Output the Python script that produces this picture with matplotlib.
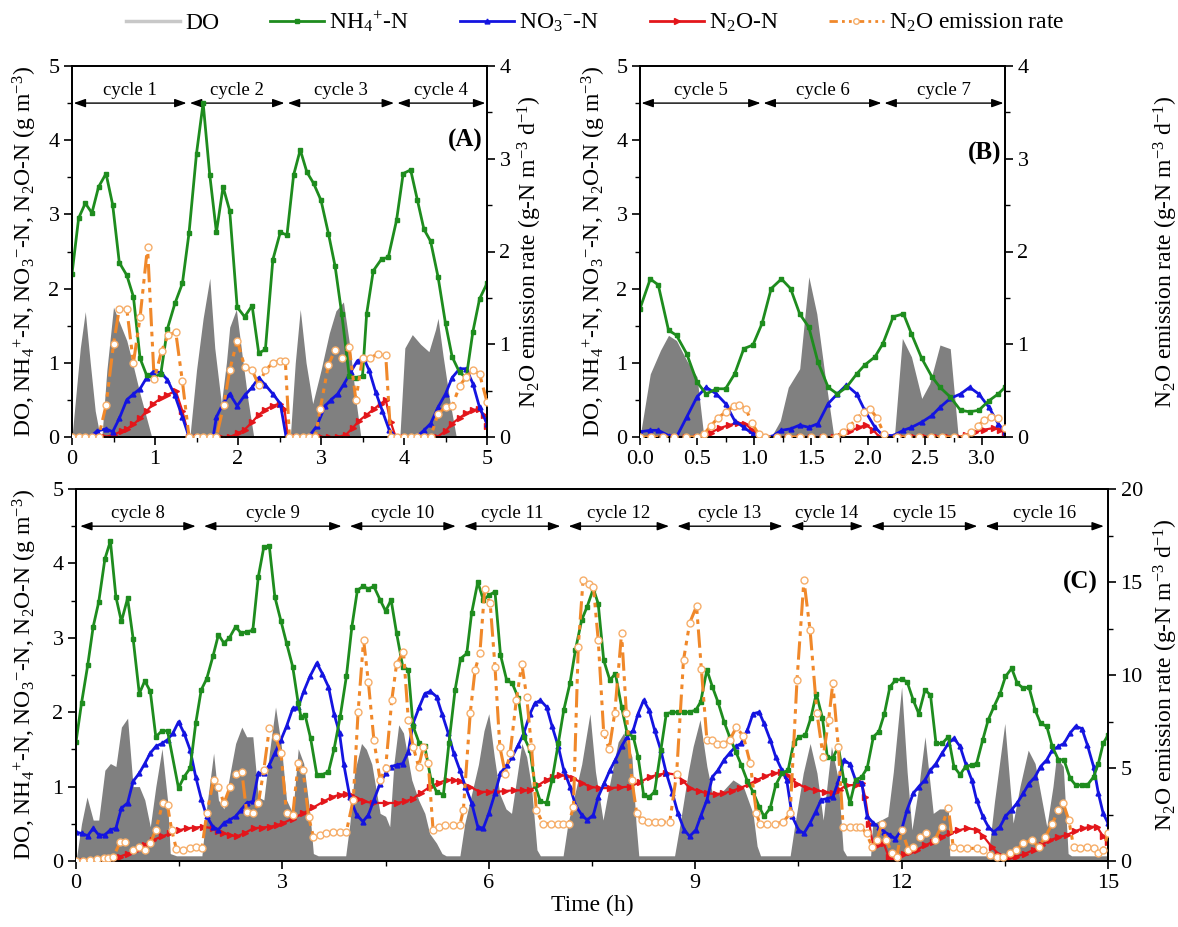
import matplotlib
matplotlib.use("Agg")
import matplotlib.pyplot as plt
from matplotlib.lines import Line2D
from matplotlib.ticker import MultipleLocator, FormatStrFormatter

plt.rcParams['font.family'] = ['Liberation Serif', 'DejaVu Serif']
plt.rcParams['mathtext.fontset'] = 'custom'
plt.rcParams['mathtext.rm'] = 'Liberation Serif'
plt.rcParams['mathtext.it'] = 'Liberation Serif:italic'
plt.rcParams['mathtext.bf'] = 'Liberation Serif:bold'

# ---------------- Panel A (cycles 1-4) ----------------
a_do_t = [0, 0.05, 0.10, 0.16, 0.22, 0.28, 0.34, 0.36, 0.42, 0.50, 0.57, 0.66, 0.74, 0.82, 0.90, 0.96,
          1.42, 1.50, 1.58, 1.66, 1.72, 1.80, 1.86, 1.90, 1.98, 2.05, 2.12, 2.19,
          2.63, 2.69, 2.75, 2.82, 2.90, 3.00, 3.10, 3.18, 3.27, 3.35, 3.42, 3.48,
          3.95, 4.01, 4.10, 4.20, 4.30, 4.38, 4.41, 4.47, 4.55, 4.63, 5.0]
a_do_v = [0, 0.60, 1.20, 1.69, 1.00, 0.35, 0, 0, 0.90, 1.75, 1.55, 1.30, 0.95, 0.58, 0.25, 0,
          0, 0.90, 1.60, 2.14, 1.20, 0.45, 1.00, 1.48, 1.72, 1.10, 0.50, 0,
          0, 1.00, 1.72, 1.00, 0.45, 0.90, 1.40, 1.70, 1.82, 1.20, 0.50, 0,
          0, 1.20, 1.38, 1.25, 1.15, 1.45, 1.60, 1.10, 0.50, 0, 0]

a_nh4_t = [0, 0.08, 0.16, 0.24, 0.32, 0.41, 0.49, 0.57, 0.66, 0.74, 0.82, 0.90, 0.98, 1.07, 1.15, 1.24,
           1.33, 1.41, 1.50, 1.58, 1.66, 1.74, 1.82, 1.90, 1.99, 2.08, 2.17, 2.25, 2.33, 2.42, 2.51,
           2.59, 2.67, 2.75, 2.83, 2.91, 3.00, 3.09, 3.17, 3.25, 3.34, 3.42, 3.50, 3.55, 3.63, 3.73,
           3.81, 3.91, 3.99, 4.08, 4.16, 4.24, 4.32, 4.41, 4.50, 4.58, 4.67, 4.75, 4.83, 4.91, 5.0]
a_nh4_v = [2.20, 2.95, 3.15, 3.02, 3.37, 3.55, 3.13, 2.35, 2.18, 1.89, 1.06, 0.83, 0.80, 0.85, 1.46, 1.80,
           2.07, 2.75, 3.82, 4.50, 3.53, 2.76, 3.37, 3.05, 1.75, 1.62, 1.77, 1.13, 1.18, 2.39, 2.76,
           2.72, 3.53, 3.87, 3.57, 3.42, 3.19, 2.74, 2.30, 1.66, 0.82, 0.80, 0.82, 1.66, 2.24, 2.40,
           2.42, 2.92, 3.55, 3.60, 3.20, 2.80, 2.64, 2.16, 1.53, 1.08, 0.87, 0.80, 1.42, 1.86, 2.07]

a_no3_t = [0.22, 0.30, 0.41, 0.49, 0.57, 0.66, 0.74, 0.82, 0.90, 0.98, 1.07, 1.15, 1.24, 1.33, 1.41,
           1.70, 1.74, 1.82, 1.90, 1.99, 2.08, 2.17, 2.25, 2.33, 2.42, 2.51, 2.58,
           2.85, 2.95, 3.05, 3.12, 3.20, 3.28, 3.36, 3.44, 3.52, 3.58, 3.66, 3.74, 3.82, 3.90,
           4.15, 4.24, 4.32, 4.41, 4.50, 4.58, 4.67, 4.75, 4.83, 4.91, 5.0]
a_no3_v = [0.0, 0.08, 0.11, 0.07, 0.25, 0.50, 0.58, 0.65, 0.80, 0.88, 0.87, 0.77, 0.56, 0.27, 0.0,
           0.0, 0.27, 0.45, 0.58, 0.42, 0.56, 0.67, 0.80, 0.70, 0.58, 0.45, 0.0,
           0.0, 0.15, 0.42, 0.50, 0.58, 0.72, 0.88, 1.03, 1.05, 0.90, 0.60, 0.35, 0.10, 0.0,
           0.0, 0.09, 0.18, 0.40, 0.58, 0.80, 0.92, 0.92, 0.72, 0.40, 0.18]

a_n2o_t = [0, 0.10, 0.20, 0.30, 0.40, 0.50, 0.60, 0.66, 0.74, 0.82, 0.90, 0.98, 1.07, 1.15, 1.25, 1.33, 1.41,
           1.50, 1.60, 1.70, 1.80, 1.90, 2.00, 2.08, 2.17, 2.25, 2.33, 2.42, 2.50, 2.56, 2.60,
           2.70, 2.80, 2.90, 3.00, 3.10, 3.20, 3.30, 3.38, 3.46, 3.55, 3.64, 3.72, 3.78, 3.84, 3.90,
           4.00, 4.10, 4.20, 4.30, 4.40, 4.50, 4.58, 4.67, 4.75, 4.83, 4.90, 4.96, 5.0]
a_n2o_v = [0, 0, 0, 0, 0, 0.03, 0.08, 0.11, 0.17, 0.25, 0.35, 0.45, 0.52, 0.57, 0.62, 0.35, 0,
           0, 0, 0, 0, 0, 0.05, 0.10, 0.20, 0.30, 0.37, 0.42, 0.45, 0.38, 0,
           0, 0, 0, 0, 0, 0, 0.03, 0.12, 0.22, 0.30, 0.38, 0.45, 0.50, 0.20, 0,
           0, 0, 0, 0, 0, 0.08, 0.18, 0.26, 0.32, 0.36, 0.38, 0.30, 0.15]

a_em_t = [0, 0.08, 0.16, 0.24, 0.32, 0.41, 0.50, 0.57, 0.66, 0.74, 0.82, 0.91, 0.99, 1.08, 1.16, 1.25,
          1.33, 1.41, 1.50, 1.58, 1.66, 1.74, 1.83, 1.90, 1.99, 2.08, 2.17, 2.25, 2.33, 2.42, 2.51,
          2.57, 2.62, 2.70, 2.78, 2.86, 2.93, 2.99, 3.09, 3.17, 3.25, 3.34, 3.42, 3.50, 3.59, 3.69,
          3.78, 3.84, 3.92, 4.00, 4.08, 4.16, 4.24, 4.32, 4.41, 4.50, 4.58, 4.67, 4.75, 4.83, 4.91, 5.0]
a_em_v = [0, 0, 0, 0, 0, 0.34, 1.00, 1.38, 1.38, 0.80, 1.29, 2.05, 0.62, 0.93, 1.10, 1.13,
          0.60, 0, 0, 0, 0, 0, 0.35, 0.72, 1.04, 0.76, 0.72, 0.56, 0.72, 0.80, 0.82,
          0.82, 0, 0, 0, 0, 0, 0.30, 0.78, 0.94, 0.85, 0.97, 0.40, 0.85, 0.85, 0.90,
          0.88, 0, 0, 0, 0, 0, 0, 0, 0.25, 0.32, 0.33, 0.55, 0.65, 0.72, 0.68, 0.38]

# ---------------- Panel B (cycles 5-7) ----------------
b_do_t = [0, 0.09, 0.18, 0.25, 0.32, 0.41, 0.50, 0.56, 1.15, 1.23, 1.30, 1.40, 1.48, 1.55, 1.62, 1.70,
          2.23, 2.30, 2.38, 2.47, 2.54, 2.63, 2.72, 2.79, 3.2]
b_do_v = [0, 0.85, 1.17, 1.37, 1.30, 1.03, 0.81, 0, 0, 0.22, 0.67, 0.92, 2.16, 1.66, 0.85, 0,
          0, 1.33, 1.08, 0.52, 0.72, 1.24, 1.19, 0, 0]

b_t = [0, 0.09, 0.16, 0.25, 0.32, 0.41, 0.50, 0.58, 0.67, 0.75, 0.83, 0.91, 0.99, 1.07, 1.15, 1.24,
       1.32, 1.40, 1.48, 1.56, 1.65, 1.73, 1.81, 1.90, 1.97, 2.06, 2.13, 2.22, 2.31, 2.38, 2.47, 2.56,
       2.63, 2.72, 2.81, 2.89, 2.97, 3.06, 3.14, 3.20]
b_nh4_v = [1.73, 2.13, 2.05, 1.44, 1.37, 1.12, 0.74, 0.58, 0.65, 0.65, 0.85, 1.19, 1.24, 1.53, 2.00, 2.13,
           2.00, 1.66, 1.48, 1.01, 0.67, 0.58, 0.67, 0.85, 0.97, 1.08, 1.26, 1.62, 1.66, 1.39, 1.06, 0.81,
           0.67, 0.54, 0.36, 0.34, 0.36, 0.49, 0.58, 0.67]
b_no3_v = [0.07, 0.09, 0.09, 0.02, 0.0, 0.27, 0.54, 0.67, 0.58, 0.45, 0.22, 0.13, 0.04, 0.02, 0.0, 0.09,
           0.11, 0.16, 0.13, 0.18, 0.45, 0.58, 0.70, 0.58, 0.36, 0.13, 0.02, 0.02, 0.09, 0.13, 0.20, 0.29,
           0.40, 0.52, 0.58, 0.67, 0.58, 0.40, 0.18, 0.07]

b_n2o_t = [0, 0.1, 0.2, 0.3, 0.4, 0.5, 0.55, 0.62, 0.70, 0.78, 0.86, 0.92, 0.98, 1.04, 1.10,
           1.2, 1.3, 1.4, 1.5, 1.6, 1.7, 1.76, 1.84, 1.92, 1.98, 2.04, 2.10,
           2.2, 2.3, 2.4, 2.5, 2.6, 2.7, 2.8, 2.86, 2.94, 3.02, 3.10, 3.16, 3.20]
b_n2o_v = [0, 0, 0, 0, 0, 0, 0, 0.06, 0.12, 0.16, 0.19, 0.18, 0.10, 0.03, 0,
           0, 0, 0, 0, 0, 0, 0.02, 0.08, 0.13, 0.16, 0.10, 0,
           0, 0, 0, 0, 0, 0, 0, 0.03, 0.07, 0.10, 0.12, 0.10, 0.05]

b_em_t = [0, 0.1, 0.2, 0.3, 0.4, 0.5, 0.56, 0.62, 0.68, 0.75, 0.82, 0.87, 0.93, 0.98, 1.04, 1.1,
          1.2, 1.3, 1.4, 1.5, 1.6, 1.72, 1.78, 1.84, 1.9, 1.96, 2.02, 2.08, 2.14,
          2.25, 2.35, 2.45, 2.55, 2.65, 2.75, 2.85, 2.9, 2.96, 3.02, 3.08, 3.14, 3.2]
b_em_v = [0, 0, 0, 0, 0, 0, 0.03, 0.12, 0.20, 0.27, 0.33, 0.35, 0.30, 0.15, 0.03, 0,
          0, 0, 0, 0, 0, 0, 0.05, 0.12, 0.20, 0.27, 0.30, 0.20, 0.03,
          0, 0, 0, 0, 0, 0, 0, 0.05, 0.12, 0.18, 0.22, 0.20, 0.10]

# ---------------- Panel C (cycles 8-16) ----------------
c_do_t = [0, 0.08, 0.16, 0.25, 0.33, 0.42, 0.50, 0.58, 0.66, 0.75, 0.83, 0.92, 1.00, 1.08, 1.16, 1.25,
          1.33, 1.37, 1.46, 1.83, 1.90, 2.00, 2.07, 2.15, 2.24, 2.32, 2.41, 2.48, 2.57, 2.65, 2.73,
          2.81, 2.90, 2.98, 3.06, 3.15, 3.23, 3.31, 3.40, 3.45, 3.52, 3.92, 3.98, 4.05, 4.15, 4.22,
          4.30, 4.42, 4.50, 4.56, 4.62, 4.69, 4.76, 4.88, 4.98, 5.07, 5.14, 5.24, 5.32, 5.38, 5.58,
          5.65, 5.75, 5.85, 5.93, 6.00, 6.08, 6.16, 6.25, 6.33, 6.42, 6.48, 6.55, 6.62, 6.70, 6.75,
          7.08, 7.15, 7.25, 7.35, 7.47, 7.55, 7.66, 7.75, 7.88, 7.96, 8.08, 8.14, 8.18, 8.70, 8.78,
          8.90, 8.97, 9.07, 9.17, 9.26, 9.41, 9.55, 9.70, 9.84, 9.90, 9.95, 10.38, 10.45, 10.57,
          10.67, 10.77, 10.86, 10.98, 11.08, 11.15, 11.20, 11.55, 11.58, 11.70, 11.80, 11.88, 12.00,
          12.08, 12.15, 12.25, 12.34, 12.46, 12.55, 12.68, 12.70, 13.26, 13.35, 13.50, 13.62, 13.72,
          13.84, 13.94, 14.11, 14.20, 14.25, 14.35, 14.42, 14.47, 15.0]
c_do_v = [0, 0.50, 0.86, 0.55, 0.55, 1.22, 1.31, 1.27, 1.80, 1.92, 1.00, 1.00, 0.82, 0.46, 1.00, 1.51,
          0.82, 0.10, 0.07, 0.07, 0.73, 1.45, 0.82, 0.70, 1.18, 1.58, 1.80, 1.67, 1.67, 0.86, 0.82,
          1.45, 2.07, 1.58, 0.82, 0.64, 1.51, 1.31, 0.64, 0.10, 0.07, 0.07, 0.50, 1.20, 1.58, 1.50,
          1.30, 0.64, 0.60, 0.46, 1.30, 1.83, 1.72, 1.09, 0.82, 0.64, 0.37, 0.24, 0.10, 0.07, 0.07,
          0.50, 0.90, 1.30, 1.75, 1.98, 1.40, 0.90, 0.70, 0.64, 1.20, 1.58, 1.40, 1.00, 0.15, 0.07,
          0.07, 0.50, 0.90, 1.30, 1.98, 1.20, 0.55, 1.00, 1.60, 1.72, 1.40, 0.50, 0.07, 0.07, 0.50,
          1.20, 1.54, 1.90, 1.27, 0.86, 0.95, 1.09, 1.00, 0.64, 0.20, 0.07, 0.07, 0.50, 1.18,
          1.58, 1.18, 0.55, 1.54, 1.09, 0.15, 0.07, 0.07, 0.50, 0.55, 0.60, 1.20, 2.34,
          1.20, 0.42, 1.00, 1.67, 0.64, 0.70, 0.70, 0.07, 0.07, 0.80, 1.85, 0.51, 1.00,
          1.49, 1.31, 0.46, 1.00, 1.40, 1.27, 0.10, 0.07, 0.07]

c_nh4_t = [0, 0.08, 0.17, 0.25, 0.33, 0.42, 0.50, 0.58, 0.66, 0.75, 0.83, 0.92, 1.00, 1.08, 1.16, 1.25,
           1.33, 1.49, 1.57, 1.66, 1.74, 1.82, 1.90, 1.99, 2.07, 2.15, 2.23, 2.32, 2.40, 2.48, 2.57,
           2.65, 2.73, 2.81, 2.89, 2.98, 3.06, 3.15, 3.23, 3.27, 3.33, 3.41, 3.50, 3.58, 3.67, 3.75,
           3.84, 3.93, 4.01, 4.09, 4.17, 4.25, 4.33, 4.42, 4.50, 4.58, 4.66, 4.75, 4.83, 4.90, 4.99,
           5.07, 5.16, 5.24, 5.34, 5.42, 5.51, 5.59, 5.68, 5.75, 5.84, 5.92, 6.00, 6.09, 6.17, 6.26,
           6.34, 6.43, 6.51, 6.60, 6.67, 6.75, 6.84, 6.92, 7.01, 7.09, 7.18, 7.26, 7.35, 7.43, 7.52,
           7.59, 7.67, 7.76, 7.84, 7.93, 8.01, 8.10, 8.17, 8.25, 8.33, 8.41, 8.50, 8.58, 8.67, 8.75,
           8.84, 8.92, 9.01, 9.08, 9.17, 9.25, 9.33, 9.42, 9.50, 9.59, 9.67, 9.76, 9.84, 9.93, 10.00,
           10.09, 10.17, 10.26, 10.35, 10.43, 10.51, 10.60, 10.68, 10.76, 10.85, 10.92, 11.00, 11.08,
           11.16, 11.25, 11.33, 11.42, 11.50, 11.59, 11.67, 11.75, 11.83, 11.91, 12.00, 12.08, 12.17,
           12.25, 12.34, 12.42, 12.50, 12.59, 12.68, 12.76, 12.85, 12.93, 13.02, 13.09, 13.18, 13.26,
           13.34, 13.43, 13.51, 13.60, 13.68, 13.77, 13.85, 13.94, 14.02, 14.11, 14.19, 14.28, 14.36,
           14.45, 14.53, 14.62, 14.70, 14.79, 14.86, 14.93, 15.00]
c_nh4_v = [1.60, 2.12, 2.63, 3.15, 3.48, 4.06, 4.30, 3.55, 3.22, 3.53, 2.99, 2.25, 2.42, 2.28, 1.67, 1.75,
           1.75, 0.98, 1.13, 1.25, 1.85, 2.30, 2.45, 2.75, 3.04, 2.93, 3.00, 3.15, 3.06, 3.08, 3.10,
           3.82, 4.22, 4.23, 3.55, 3.22, 2.93, 2.61, 2.12, 1.94, 1.96, 1.65, 1.16, 1.16, 1.20, 1.50,
           1.94, 2.48, 3.15, 3.64, 3.69, 3.66, 3.69, 3.51, 3.36, 3.51, 3.06, 2.61, 2.57, 1.81, 1.58,
           1.54, 1.09, 0.93, 0.89, 1.58, 2.30, 2.72, 2.79, 3.33, 3.75, 3.51, 3.57, 3.62, 2.77, 2.43,
           2.39, 2.19, 1.67, 1.49, 1.02, 0.80, 0.78, 1.09, 1.58, 2.03, 2.39, 2.84, 3.24, 3.42, 3.66,
           3.46, 2.70, 2.43, 2.52, 2.07, 1.72, 1.67, 1.40, 0.89, 0.86, 0.93, 1.49, 1.98, 2.00, 2.00,
           2.00, 2.00, 2.03, 2.14, 2.57, 2.34, 2.14, 1.87, 1.67, 1.47, 1.29, 1.07, 0.93, 0.73, 0.60,
           0.71, 1.02, 1.18, 1.22, 1.58, 1.67, 1.69, 1.92, 2.25, 1.92, 1.40, 1.38, 1.54,
           1.09, 0.78, 1.09, 1.13, 1.25, 1.67, 1.74, 1.98, 2.34, 2.43, 2.44, 2.41, 2.16,
           1.98, 2.30, 2.23, 1.58, 1.58, 1.67, 1.27, 1.16, 1.27, 1.29, 1.31, 1.63, 1.90,
           2.07, 2.25, 2.48, 2.59, 2.39, 2.32, 2.34, 2.03, 1.85, 1.81, 1.54, 1.36, 1.36,
           1.11, 1.02, 1.02, 1.02, 1.13, 1.31, 1.58, 1.69]

c_no3_t = [0, 0.08, 0.17, 0.25, 0.33, 0.42, 0.50, 0.58, 0.66, 0.75, 0.83, 0.92, 1.00, 1.08, 1.16, 1.25,
           1.33, 1.41, 1.49, 1.57, 1.66, 1.74, 1.82, 1.90, 1.99, 2.07, 2.15, 2.23, 2.32, 2.40, 2.48,
           2.57, 2.65, 2.73, 2.81, 2.89, 2.98, 3.06, 3.15, 3.23, 3.31, 3.40, 3.50, 3.58, 3.67, 3.75,
           3.83, 3.89, 3.98, 4.08, 4.17, 4.25, 4.33, 4.42, 4.50, 4.58, 4.66, 4.75, 4.83, 4.90, 4.99,
           5.07, 5.15, 5.24, 5.32, 5.41, 5.49, 5.58, 5.66, 5.75, 5.84, 5.92, 6.00, 6.09, 6.17, 6.26,
           6.34, 6.43, 6.51, 6.60, 6.67, 6.75, 6.84, 6.92, 7.01, 7.09, 7.18, 7.26, 7.35, 7.43, 7.52,
           7.59, 7.68, 7.76, 7.84, 7.93, 8.01, 8.10, 8.17, 8.25, 8.33, 8.41, 8.50, 8.58, 8.67, 8.75,
           8.84, 8.92, 9.01, 9.08, 9.17, 9.25, 9.33, 9.42, 9.50, 9.59, 9.67, 9.76, 9.84, 9.93, 10.00,
           10.09, 10.17, 10.26, 10.33, 10.41, 10.50, 10.58, 10.67, 10.75, 10.83, 10.92, 11.00, 11.08,
           11.16, 11.25, 11.33, 11.42, 11.50, 11.59, 11.67, 11.75, 11.83, 11.91, 12.00, 12.08, 12.17,
           12.25, 12.34, 12.42, 12.50, 12.59, 12.68, 12.76, 12.85, 12.93, 13.02, 13.09, 13.18, 13.26,
           13.34, 13.43, 13.51, 13.60, 13.68, 13.77, 13.85, 13.94, 14.02, 14.11, 14.19, 14.28, 14.36,
           14.45, 14.53, 14.62, 14.70, 14.79, 14.86, 14.93, 15.00]
c_no3_v = [0.39, 0.37, 0.34, 0.44, 0.35, 0.35, 0.42, 0.44, 0.71, 0.78, 1.07, 1.18, 1.31, 1.45, 1.54, 1.58,
           1.63, 1.72, 1.87, 1.72, 1.49, 1.13, 0.84, 0.60, 0.46, 0.42, 0.51, 0.55, 0.60, 0.69, 0.78,
           0.80, 1.18, 1.18, 1.29, 1.45, 1.63, 1.81, 2.05, 2.07, 2.28, 2.48, 2.66, 2.52, 2.34, 1.98,
           1.72, 1.31, 0.86, 0.62, 0.53, 0.62, 0.82, 1.04, 1.18, 1.27, 1.29, 1.31, 1.47, 1.85, 2.07,
           2.25, 2.28, 2.21, 1.98, 1.72, 1.45, 1.22, 1.00, 0.78, 0.46, 0.44, 0.64, 0.91, 1.18, 1.29,
           1.40, 1.56, 1.72, 1.98, 2.12, 2.16, 2.07, 1.81, 1.54, 1.22, 1.00, 0.75, 0.62, 0.55, 0.62,
           0.86, 1.05, 1.22, 1.36, 1.54, 1.67, 1.76, 1.98, 2.16, 2.03, 1.76, 1.49, 1.18, 0.91, 0.64,
           0.42, 0.33, 0.42, 0.60, 0.82, 1.13, 1.22, 1.36, 1.45, 1.54, 1.58, 1.76, 1.98, 2.00, 1.85,
           1.63, 1.40, 1.22, 1.09, 0.60, 0.42, 0.37, 0.51, 0.66, 0.82, 0.84, 0.86, 1.07,
           1.36, 1.30, 1.09, 1.05, 0.60, 0.51, 0.46, 0.39, 0.35, 0.30, 0.42, 0.69, 0.91,
           1.00, 1.09, 1.22, 1.31, 1.45, 1.58, 1.65, 1.54, 1.31, 1.09, 0.82, 0.60, 0.46,
           0.39, 0.46, 0.60, 0.69, 0.78, 0.91, 1.04, 1.13, 1.27, 1.36, 1.49, 1.54, 1.58,
           1.72, 1.81, 1.78, 1.56, 1.27, 0.91, 0.64, 0.51]

c_n2o_t = [0, 0.10, 0.20, 0.30, 0.40, 0.55, 0.64, 0.76, 0.88, 1.00, 1.12, 1.25, 1.37, 1.49, 1.61, 1.73,
           1.85, 1.99, 2.06, 2.14, 2.24, 2.34, 2.46, 2.58, 2.70, 2.82, 2.92, 3.01, 3.15, 3.30, 3.45,
           3.60, 3.72, 3.83, 3.92, 4.00, 4.10, 4.18, 4.32, 4.50, 4.66, 4.78, 4.90, 5.02, 5.15, 5.27,
           5.39, 5.50, 5.58, 5.72, 5.87, 6.00, 6.10, 6.23, 6.36, 6.50, 6.60, 6.72, 6.84, 6.94, 7.03,
           7.13, 7.23, 7.35, 7.47, 7.60, 7.76, 7.90, 8.05, 8.20, 8.34, 8.46, 8.58, 8.73, 8.82, 8.92,
           9.05, 9.17, 9.30, 9.41, 9.53, 9.65, 9.78, 9.90, 10.02, 10.14, 10.25, 10.33, 10.40, 10.48,
           10.62, 10.76, 10.88, 11.00, 11.10, 11.20, 11.34, 11.42, 11.47, 11.53, 11.59, 11.66, 11.74,
           11.81, 11.88, 11.95, 12.03, 12.12, 12.22, 12.34, 12.46, 12.58, 12.70, 12.82, 12.95, 13.09,
           13.19, 13.31, 13.40, 13.48, 13.58, 13.67, 13.80, 13.92, 14.04, 14.16, 14.28, 14.40, 14.52,
           14.64, 14.74, 14.84, 14.93, 15.00]
c_n2o_v = [0, 0, 0, 0, 0, 0.0, 0.06, 0.10, 0.15, 0.22, 0.28, 0.33, 0.37, 0.41, 0.44, 0.45,
           0.46, 0.44, 0.40, 0.37, 0.35, 0.33, 0.38, 0.44, 0.45, 0.46, 0.48, 0.51, 0.57, 0.64, 0.72,
           0.80, 0.86, 0.89, 0.90, 0.89, 0.84, 0.80, 0.78, 0.78, 0.78, 0.80, 0.84, 0.92, 1.00, 1.05,
           1.09, 1.09, 1.07, 1.00, 0.93, 0.93, 0.93, 0.94, 0.95, 0.95, 0.95, 1.02, 1.09, 1.13, 1.16,
           1.14, 1.11, 1.05, 1.00, 0.98, 0.98, 0.99, 1.00, 1.06, 1.13, 1.16, 1.18, 1.16, 1.08, 0.98,
           0.94, 0.91, 0.90, 0.91, 0.94, 0.98, 1.03, 1.09, 1.14, 1.18, 1.19, 1.16, 1.10, 1.04,
           0.98, 0.95, 0.93, 0.91, 0.96, 1.02, 1.02, 1.05, 0.86, 0.50, 0.19, 0.22, 0.24,
           0.06, 0.01, 0.05, 0.10, 0.12, 0.15, 0.21, 0.26, 0.32, 0.37, 0.41, 0.44, 0.42,
           0.33, 0.19, 0.10, 0.06, 0.05, 0.06, 0.10, 0.15, 0.22, 0.28, 0.32, 0.35, 0.40,
           0.44, 0.46, 0.46, 0.33, 0.26]

c_em_t = [0, 0.10, 0.20, 0.30, 0.40, 0.46, 0.54, 0.64, 0.71, 0.83, 0.92, 1.00, 1.08, 1.16, 1.26, 1.33,
          1.39, 1.46, 1.56, 1.66, 1.75, 1.83, 1.90, 2.00, 2.07, 2.15, 2.24, 2.32, 2.41, 2.48, 2.57,
          2.65, 2.73, 2.81, 2.90, 2.98, 3.06, 3.15, 3.23, 3.30, 3.38, 3.45, 3.55, 3.64, 3.74, 3.84,
          3.93, 4.03, 4.10, 4.18, 4.25, 4.33, 4.42, 4.50, 4.59, 4.66, 4.76, 4.83, 4.90, 4.98, 5.05,
          5.12, 5.19, 5.27, 5.36, 5.48, 5.58, 5.63, 5.73, 5.80, 5.87, 5.94, 6.02, 6.09, 6.16, 6.24,
          6.31, 6.40, 6.48, 6.55, 6.62, 6.69, 6.79, 6.90, 7.00, 7.08, 7.16, 7.23, 7.30, 7.37, 7.45,
          7.52, 7.59, 7.67, 7.75, 7.83, 7.93, 8.00, 8.08, 8.15, 8.22, 8.32, 8.42, 8.51, 8.63, 8.73,
          8.83, 8.92, 9.02, 9.09, 9.17, 9.24, 9.31, 9.41, 9.50, 9.60, 9.70, 9.80, 9.89, 9.94, 10.04,
          10.16, 10.28, 10.38, 10.48, 10.58, 10.67, 10.77, 10.86, 10.94, 11.00, 11.08, 11.15, 11.25,
          11.33, 11.40, 11.49, 11.57, 11.64, 11.71, 11.78, 11.86, 11.93, 12.00, 12.10, 12.17, 12.27,
          12.36, 12.48, 12.58, 12.68, 12.75, 12.85, 12.95, 13.09, 13.19, 13.28, 13.38, 13.48, 13.57,
          13.67, 13.77, 13.89, 13.99, 14.09, 14.19, 14.28, 14.35, 14.43, 14.50, 14.60, 14.69, 14.79,
          14.86, 14.93, 15.00]
c_em_v = [0, 0.02, 0.05, 0.10, 0.15, 0.15, 0.20, 1.00, 1.00, 0.60, 0.77, 0.60, 0.95, 1.67, 3.10, 3.00,
          1.67, 0.63, 0.60, 0.68, 0.77, 0.68, 2.56, 4.35, 4.00, 3.10, 4.00, 4.70, 4.80, 2.65, 2.56,
          3.10, 4.90, 7.13, 6.68, 5.80, 2.56, 2.47, 5.25, 4.90, 2.38, 1.31, 1.40, 1.49, 1.58, 1.58,
          1.58, 3.30, 8.00, 11.90, 9.60, 6.50, 4.35, 5.00, 8.65, 10.60, 11.25, 7.60, 6.15, 5.07, 6.15,
          5.25, 1.67, 1.85, 1.94, 1.94, 1.94, 2.74, 7.94, 10.27, 11.16, 14.60, 13.85, 10.45, 6.15, 4.70,
          5.80, 8.65, 10.60, 8.84, 6.15, 2.74, 2.00, 2.00, 2.00, 2.00, 2.00, 2.90, 11.50, 15.10, 14.90,
          14.75, 11.90, 6.90, 6.00, 7.94, 12.25, 7.94, 4.35, 2.56, 2.20, 2.10, 2.10, 2.10, 2.10, 4.70,
          10.80, 12.80, 13.70, 10.30, 6.50, 6.50, 6.30, 6.30, 6.50, 7.20, 6.70, 5.25, 2.56, 2.00, 2.00,
          2.00, 2.10, 2.56, 9.73, 15.10, 12.40, 7.94, 5.60, 7.60, 9.55, 6.15, 1.85, 1.85,
          1.85, 1.85, 1.49, 0.77, 1.13, 2.00, 1.13, 0.41, 0.23, 1.67, 0.60, 0.77, 1.31,
          1.49, 1.13, 1.85, 2.83, 0.77, 0.68, 0.68, 0.68, 0.60, 0.32, 0.23, 0.23, 0.41,
          0.60, 0.95, 1.13, 0.77, 1.31, 2.00, 2.74, 3.10, 2.20, 0.77, 0.68, 0.77, 0.68,
          0.41, 0.60, 1.49]

# cycle boundaries (h) and labels
a_cycles = [0, 1.40, 2.58, 3.90, 5.0]
b_cycles = [0, 1.07, 2.13, 3.20]
c_cycles = [0, 1.80, 3.92, 5.58, 7.10, 8.68, 10.33, 11.50, 13.16, 15.0]
a_names = ['cycle 1', 'cycle 2', 'cycle 3', 'cycle 4']
b_names = ['cycle 5', 'cycle 6', 'cycle 7']
c_names = ['cycle %d' % i for i in range(8, 17)]

DO_C = '#808080'
NH4_C = '#1E8C1E'
NO3_C = '#1414E0'
N2O_C = '#E3161B'
EM_C = '#F0882A'
EM_EDGE = '#F6AE6A'

TICK_FS = 16
LAB_FS = 17
NH4_TXT = r'NH$_{\mathregular{4}}$$^{\mathregular{+}}$-N'
NO3_TXT = r'NO$_{\mathregular{3}}$$^{\mathregular{-}}$-N'
N2O_TXT = r'N$_{\mathregular{2}}$O'
left_label = 'DO, ' + NH4_TXT + ', ' + NO3_TXT + ', ' + N2O_TXT + r'-N (g m$^{\mathregular{-3}}$)'
right_label = N2O_TXT + r' emission rate (g-N m$^{\mathregular{-3}}$ d$^{\mathregular{-1}}$)'

fig = plt.figure(figsize=(11.78, 9.27), dpi=100)
W, H = 1178.0, 927.0


def box(l, r, t, b):
    return [l / W, 1 - b / H, (r - l) / W, (b - t) / H]


def style_axis(ax):
    ax.tick_params(axis='both', which='major', direction='out', length=6, width=1.2,
                   labelsize=TICK_FS, pad=3)
    ax.tick_params(axis='both', which='minor', direction='out', length=3.5, width=1.0)
    for s in ax.spines.values():
        s.set_linewidth(1.3)


def cycles(ax, bounds, names, xspan):
    gap = 0.004 * xspan
    for i, name in enumerate(names):
        x0, x1 = bounds[i] + gap, bounds[i + 1] - gap
        ax.annotate('', xy=(x1, 4.5), xytext=(x0, 4.5),
                    arrowprops=dict(arrowstyle='<|-|>,head_length=0.7,head_width=0.25',
                                    color='k', lw=1.0, shrinkA=0, shrinkB=0))
        ax.text((x0 + x1) / 2, 4.56, name, ha='center', va='bottom', fontsize=13.5)


def panel(rect, do_t, do_v, nh4_t, nh4_v, no3_t, no3_v, n2o_t, n2o_v, em_t, em_v,
          xmax, rmax, bounds, names, tag, tag_y, lab_l, lab_r, xmaj, xmin_, rmaj, rmin, xfmt):
    ax = fig.add_axes(rect)
    ax.fill_between(do_t, do_v, 0, color=DO_C, lw=0, zorder=1)
    ax.plot(n2o_t, n2o_v, color=N2O_C, lw=1.6, marker='>', ms=4, mec=N2O_C, mfc=N2O_C, zorder=3)
    ax.plot(no3_t, no3_v, color=NO3_C, lw=2.0, marker='^', ms=3.5, zorder=4)
    ax.plot(nh4_t, nh4_v, color=NH4_C, lw=2.0, marker='s', ms=3.0, zorder=5)
    ax.set_xlim(0, xmax)
    ax.set_ylim(0, 5)
    ax.xaxis.set_major_locator(MultipleLocator(xmaj))
    ax.xaxis.set_minor_locator(MultipleLocator(xmin_))
    ax.xaxis.set_major_formatter(FormatStrFormatter(xfmt))
    ax.yaxis.set_major_locator(MultipleLocator(1))
    ax.yaxis.set_minor_locator(MultipleLocator(0.5))
    ax.set_ylabel(left_label, fontsize=LAB_FS)
    ax.yaxis.set_label_coords(lab_l, 0.5)
    style_axis(ax)
    cycles(ax, bounds, names, xmax)
    ax.text(0.99, tag_y, tag, transform=ax.transAxes, ha='right', va='center',
            fontsize=18, fontweight='bold')

    ax2 = ax.twinx()
    ax2.plot(em_t, em_v, color=EM_C, lw=2.2, linestyle=(0, (6, 1.8, 1.5, 1.8, 1.5, 1.8)),
             marker='o', ms=5, mfc='white', mec=EM_EDGE, mew=1.0, zorder=4)
    ax2.set_ylim(0, rmax)
    ax2.yaxis.set_major_locator(MultipleLocator(rmaj))
    ax2.yaxis.set_minor_locator(MultipleLocator(rmin))
    ax2.set_ylabel(right_label, fontsize=LAB_FS)
    ax2.yaxis.set_label_coords(lab_r, 0.5)
    style_axis(ax2)
    return ax, ax2


panel(box(72, 487, 66, 437), a_do_t, a_do_v, a_nh4_t, a_nh4_v, a_no3_t, a_no3_v,
      a_n2o_t, a_n2o_v, a_em_t, a_em_v, 5.0, 4, a_cycles, a_names, '(A)', 0.80,
      -0.08, 1.07, 1, 0.5, 1, 0.5, '%d')

panel(box(640, 1005, 66, 437), b_do_t, b_do_v, b_t, b_nh4_v, b_t, b_no3_v,
      b_n2o_t, b_n2o_v, b_em_t, b_em_v, 3.2, 4, b_cycles, b_names, '(B)', 0.765,
      -0.088, 1.403, 0.5, 0.25, 1, 0.5, '%.1f')

axc, axc2 = panel(box(76, 1108, 489, 861), c_do_t, c_do_v, c_nh4_t, c_nh4_v, c_no3_t, c_no3_v,
                  c_n2o_t, c_n2o_v, c_em_t, c_em_v, 15.0, 20, c_cycles, c_names, '(C)', 0.75,
                  -0.036, 1.0426, 3, 1.5, 5, 2.5, '%d')
axc.set_xlabel('Time (h)', fontsize=LAB_FS, labelpad=2)

handles = [
    Line2D([], [], color='#C8C8C8', lw=2.5),
    Line2D([], [], color=NH4_C, lw=2, marker='s', ms=3),
    Line2D([], [], color=NO3_C, lw=2, marker='^', ms=3.5),
    Line2D([], [], color=N2O_C, lw=2, marker='>', ms=4),
    Line2D([], [], color=EM_C, lw=2, linestyle=(0, (3, 1.5, 1, 1.5, 1, 1.5)),
           marker='o', ms=4, mfc='white', mec=EM_EDGE),
]
labels = ['DO', NH4_TXT, NO3_TXT, N2O_TXT + '-N', N2O_TXT + ' emission rate']
fig.legend(handles, labels, loc='center', bbox_to_anchor=(0.505, 1 - 22 / H), ncol=5,
           frameon=False, fontsize=17, handlelength=2.3, handletextpad=0.22,
           columnspacing=2.15, borderaxespad=0)

fig.savefig('out.png', dpi=100)
